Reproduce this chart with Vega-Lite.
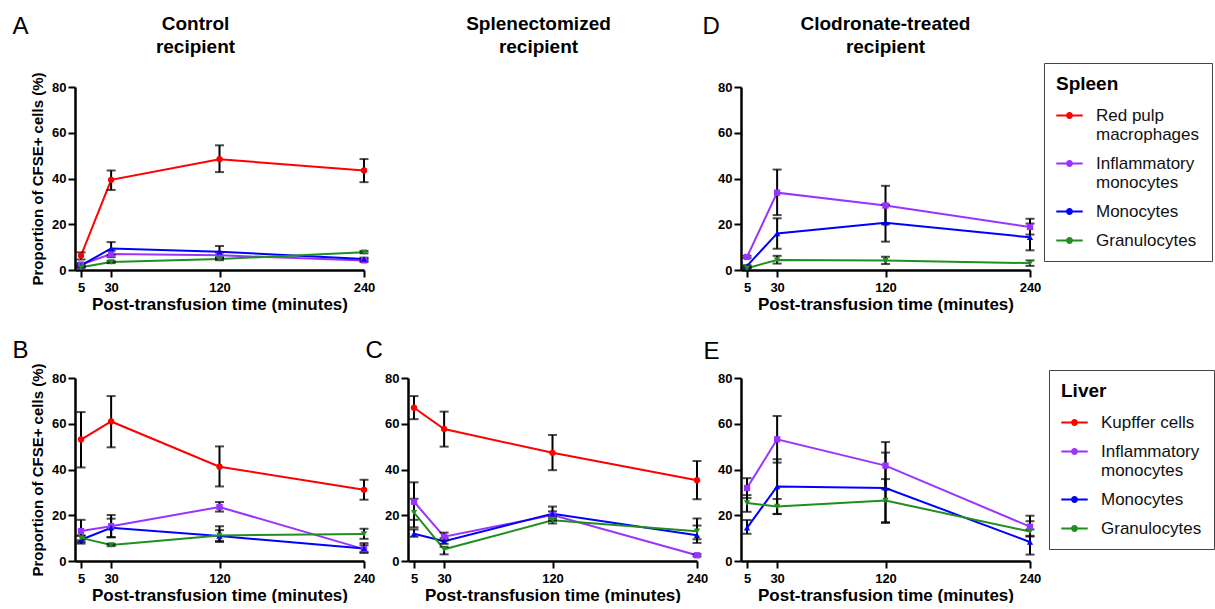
{
  "$schema": "https://vega.github.io/schema/vega-lite/v6.json",
  "padding": {"left": 12, "top": 14, "right": 0, "bottom": 0},
  "background": "white",
  "config": {
    "font": "Liberation Sans",
    "view": {"stroke": null},
    "axis": {"domainColor": "#000", "domainWidth": 2.5, "tickColor": "#000", "tickWidth": 2, "tickSize": 7, "labelFont": "Liberation Sans", "labelFontWeight": "bold", "labelFontSize": 13, "labelColor": "#000", "titleFont": "Liberation Sans", "titleFontWeight": "bold", "titleColor": "#000", "grid": false, "labelFlush": false, "labelOverlap": false},
    "axisX": {"titleFontSize": 17, "labelPadding": 4, "titlePadding": 2},
    "axisY": {"titleFontSize": 15, "labelPadding": 2, "titlePadding": 6}
  },
  "datasets": {
    "d": [
      {"p": "A", "c": "Red pulp macrophages", "t": 5, "m": 6.3, "lo": 4.6, "hi": 7.7},
      {"p": "A", "c": "Red pulp macrophages", "t": 30, "m": 39.4, "lo": 35.0, "hi": 43.5},
      {"p": "A", "c": "Red pulp macrophages", "t": 120, "m": 48.4, "lo": 42.8, "hi": 54.5},
      {"p": "A", "c": "Red pulp macrophages", "t": 240, "m": 43.5, "lo": 38.4, "hi": 48.5},
      {"p": "A", "c": "Inflammatory monocytes", "t": 5, "m": 2.4, "lo": 1.8, "hi": 3.0},
      {"p": "A", "c": "Inflammatory monocytes", "t": 30, "m": 7.0, "lo": 5.6, "hi": 8.4},
      {"p": "A", "c": "Inflammatory monocytes", "t": 120, "m": 6.4, "lo": 5.2, "hi": 7.6},
      {"p": "A", "c": "Inflammatory monocytes", "t": 240, "m": 4.2, "lo": 3.5, "hi": 4.9},
      {"p": "A", "c": "Monocytes", "t": 5, "m": 2.0, "lo": 1.5, "hi": 2.5},
      {"p": "A", "c": "Monocytes", "t": 30, "m": 9.4, "lo": 6.6, "hi": 12.2},
      {"p": "A", "c": "Monocytes", "t": 120, "m": 8.0, "lo": 5.5, "hi": 10.5},
      {"p": "A", "c": "Monocytes", "t": 240, "m": 4.8, "lo": 4.2, "hi": 5.4},
      {"p": "A", "c": "Granulocytes", "t": 5, "m": 1.2, "lo": 0.9, "hi": 1.5},
      {"p": "A", "c": "Granulocytes", "t": 30, "m": 3.5, "lo": 3.0, "hi": 4.0},
      {"p": "A", "c": "Granulocytes", "t": 120, "m": 4.8, "lo": 4.3, "hi": 5.3},
      {"p": "A", "c": "Granulocytes", "t": 240, "m": 7.8, "lo": 7.3, "hi": 8.3},

      {"p": "D", "c": "Inflammatory monocytes", "t": 5, "m": 5.7, "lo": 5.2, "hi": 6.2},
      {"p": "D", "c": "Inflammatory monocytes", "t": 30, "m": 33.8, "lo": 24.0, "hi": 43.9},
      {"p": "D", "c": "Inflammatory monocytes", "t": 120, "m": 28.2, "lo": 20.0, "hi": 36.8},
      {"p": "D", "c": "Inflammatory monocytes", "t": 240, "m": 18.8, "lo": 15.5, "hi": 22.4},
      {"p": "D", "c": "Monocytes", "t": 5, "m": 1.8, "lo": 1.5, "hi": 2.1},
      {"p": "D", "c": "Monocytes", "t": 30, "m": 16.0, "lo": 9.3, "hi": 22.6},
      {"p": "D", "c": "Monocytes", "t": 120, "m": 20.6, "lo": 12.4, "hi": 28.6},
      {"p": "D", "c": "Monocytes", "t": 240, "m": 14.3, "lo": 8.6, "hi": 20.3},
      {"p": "D", "c": "Granulocytes", "t": 5, "m": 0.8, "lo": 0.6, "hi": 1.0},
      {"p": "D", "c": "Granulocytes", "t": 30, "m": 4.4, "lo": 2.8, "hi": 6.2},
      {"p": "D", "c": "Granulocytes", "t": 120, "m": 4.2, "lo": 2.6, "hi": 5.8},
      {"p": "D", "c": "Granulocytes", "t": 240, "m": 3.0, "lo": 1.8, "hi": 4.2},

      {"p": "B", "c": "Kupffer cells", "t": 5, "m": 53.1, "lo": 40.9, "hi": 65.1},
      {"p": "B", "c": "Kupffer cells", "t": 30, "m": 61.0, "lo": 49.7, "hi": 72.1},
      {"p": "B", "c": "Kupffer cells", "t": 120, "m": 41.2, "lo": 32.6, "hi": 50.1},
      {"p": "B", "c": "Kupffer cells", "t": 240, "m": 31.1, "lo": 26.8, "hi": 35.5},
      {"p": "B", "c": "Inflammatory monocytes", "t": 5, "m": 13.1, "lo": 8.2, "hi": 18.0},
      {"p": "B", "c": "Inflammatory monocytes", "t": 30, "m": 15.2, "lo": 10.3, "hi": 20.1},
      {"p": "B", "c": "Inflammatory monocytes", "t": 120, "m": 23.6, "lo": 21.6, "hi": 25.8},
      {"p": "B", "c": "Inflammatory monocytes", "t": 240, "m": 5.2, "lo": 3.5, "hi": 6.9},
      {"p": "B", "c": "Monocytes", "t": 5, "m": 9.3, "lo": 7.6, "hi": 11.0},
      {"p": "B", "c": "Monocytes", "t": 30, "m": 14.5, "lo": 10.5, "hi": 18.5},
      {"p": "B", "c": "Monocytes", "t": 120, "m": 10.9, "lo": 8.3, "hi": 13.5},
      {"p": "B", "c": "Monocytes", "t": 240, "m": 5.5, "lo": 4.0, "hi": 7.8},
      {"p": "B", "c": "Granulocytes", "t": 5, "m": 10.1, "lo": 9.0, "hi": 11.2},
      {"p": "B", "c": "Granulocytes", "t": 30, "m": 7.0, "lo": 6.5, "hi": 7.5},
      {"p": "B", "c": "Granulocytes", "t": 120, "m": 11.2, "lo": 8.8, "hi": 15.2},
      {"p": "B", "c": "Granulocytes", "t": 240, "m": 11.8, "lo": 9.7, "hi": 14.1},

      {"p": "C", "c": "Kupffer cells", "t": 5, "m": 67.0, "lo": 62.0, "hi": 72.1},
      {"p": "C", "c": "Kupffer cells", "t": 30, "m": 57.7, "lo": 50.0, "hi": 65.3},
      {"p": "C", "c": "Kupffer cells", "t": 120, "m": 47.3, "lo": 39.7, "hi": 55.1},
      {"p": "C", "c": "Kupffer cells", "t": 240, "m": 35.3, "lo": 27.0, "hi": 43.7},
      {"p": "C", "c": "Inflammatory monocytes", "t": 5, "m": 25.9, "lo": 18.0, "hi": 34.4},
      {"p": "C", "c": "Inflammatory monocytes", "t": 30, "m": 10.6, "lo": 9.0, "hi": 12.4},
      {"p": "C", "c": "Inflammatory monocytes", "t": 120, "m": 20.1, "lo": 18.5, "hi": 21.7},
      {"p": "C", "c": "Inflammatory monocytes", "t": 240, "m": 2.5, "lo": 2.0, "hi": 3.0},
      {"p": "C", "c": "Monocytes", "t": 5, "m": 11.9, "lo": 10.6, "hi": 13.8},
      {"p": "C", "c": "Monocytes", "t": 30, "m": 8.7, "lo": 7.5, "hi": 10.0},
      {"p": "C", "c": "Monocytes", "t": 120, "m": 20.7, "lo": 17.6, "hi": 23.8},
      {"p": "C", "c": "Monocytes", "t": 240, "m": 11.3, "lo": 7.9, "hi": 15.5},
      {"p": "C", "c": "Granulocytes", "t": 5, "m": 21.1, "lo": 14.7, "hi": 27.2},
      {"p": "C", "c": "Granulocytes", "t": 30, "m": 5.1, "lo": 2.9, "hi": 6.2},
      {"p": "C", "c": "Granulocytes", "t": 120, "m": 17.8, "lo": 16.4, "hi": 19.4},
      {"p": "C", "c": "Granulocytes", "t": 240, "m": 13.0, "lo": 9.5, "hi": 18.6},

      {"p": "E", "c": "Inflammatory monocytes", "t": 5, "m": 31.9, "lo": 27.5, "hi": 36.2},
      {"p": "E", "c": "Inflammatory monocytes", "t": 30, "m": 53.2, "lo": 43.0, "hi": 63.4},
      {"p": "E", "c": "Inflammatory monocytes", "t": 120, "m": 41.7, "lo": 31.5, "hi": 52.0},
      {"p": "E", "c": "Inflammatory monocytes", "t": 240, "m": 15.0, "lo": 11.0, "hi": 19.8},
      {"p": "E", "c": "Monocytes", "t": 5, "m": 14.5, "lo": 11.9, "hi": 17.9},
      {"p": "E", "c": "Monocytes", "t": 30, "m": 32.6, "lo": 20.6, "hi": 44.5},
      {"p": "E", "c": "Monocytes", "t": 120, "m": 31.9, "lo": 16.6, "hi": 47.4},
      {"p": "E", "c": "Monocytes", "t": 240, "m": 8.3, "lo": 2.8, "hi": 13.8},
      {"p": "E", "c": "Granulocytes", "t": 5, "m": 25.4, "lo": 21.5, "hi": 28.8},
      {"p": "E", "c": "Granulocytes", "t": 30, "m": 23.8, "lo": 20.5, "hi": 27.1},
      {"p": "E", "c": "Granulocytes", "t": 120, "m": 26.4, "lo": 17.0, "hi": 35.8},
      {"p": "E", "c": "Granulocytes", "t": 240, "m": 12.9, "lo": 10.7, "hi": 17.4}
    ]
  },
  "data": {"name": "d"},
  "columns": 3,
  "spacing": {"row": 108, "column": 44},
  "bounds": "flush",
  "resolve": {"scale": {"color": "independent", "shape": "independent"}},
  "concat": [
    {
      "width": 289, "height": 183,
      "transform": [{"filter": "datum.p == 'A'"}],
      "layer": [
        {
          "encoding": {
            "x": {"field": "t", "type": "quantitative", "scale": {"domain": [0, 240], "nice": false}, "axis": {"orient": "bottom", "values": [5, 30, 120, 240]}, "title": "Post-transfusion time (minutes)"},
            "y": {"field": "m", "type": "quantitative", "scale": {"domain": [0, 80], "nice": false}, "axis": {"orient": "left", "values": [0, 20, 40, 60, 80]}, "title": "Proportion of CFSE+ cells (%)"}
          },
          "layer": [
            {"mark": {"type": "line", "strokeWidth": 2}, "encoding": {"color": {"field": "c", "type": "nominal", "scale": {"domain": ["Red pulp macrophages", "Inflammatory monocytes", "Monocytes", "Granulocytes"], "range": ["#ff0000", "#9933ff", "#0000ff", "#1f8f1f"]}, "legend": null}}},
            {"mark": {"type": "errorbar", "ticks": true, "color": "black", "thickness": 2, "size": 9}, "encoding": {"y": {"field": "lo", "type": "quantitative", "title": "Proportion of CFSE+ cells (%)"}, "y2": {"field": "hi"}}},
            {"mark": {"type": "point", "filled": true, "opacity": 1, "size": 40}, "encoding": {
              "color": {"field": "c", "type": "nominal", "scale": {"domain": ["Red pulp macrophages", "Inflammatory monocytes", "Monocytes", "Granulocytes"], "range": ["#ff0000", "#9933ff", "#0000ff", "#1f8f1f"]}, "legend": null},
              "shape": {"field": "c", "type": "nominal", "scale": {"domain": ["Granulocytes", "Monocytes", "Inflammatory monocytes", "Red pulp macrophages"], "range": ["triangle-down", "triangle-up", "square", "circle"]}, "legend": null}}}
          ]
        },
        {
          "mark": {"type": "point", "opacity": 0},
          "encoding": {
            "x": {"field": "t", "type": "quantitative", "axis": {"orient": "top", "domain": false, "ticks": false, "labels": false, "title": ["Control", "recipient"], "titleX": 120, "titleY": -58, "titleAlign": "center", "titleBaseline": "alphabetic", "titleAngle": 0, "titleFontSize": 19, "titleLineHeight": 23}},
            "y": {"field": "m", "type": "quantitative", "axis": {"orient": "right", "domain": false, "ticks": false, "labels": false, "title": "A", "titleX": -352, "titleY": -54, "titleAlign": "left", "titleBaseline": "alphabetic", "titleAngle": 0, "titleFontSize": 24, "titleFontWeight": "normal"}}
          }
        }
      ],
      "resolve": {"axis": {"x": "independent", "y": "independent"}}
    },
    {
      "width": 289, "height": 183,
      "transform": [{"filter": "datum.p == 'A'"}],
      "mark": {"type": "point", "opacity": 0},
      "encoding": {
        "x": {"field": "t", "type": "quantitative", "scale": {"domain": [0, 240], "nice": false}, "axis": {"orient": "top", "domain": false, "ticks": false, "labels": false, "title": ["Splenectomized", "recipient"], "titleX": 130, "titleY": -58, "titleAlign": "center", "titleBaseline": "alphabetic", "titleAngle": 0, "titleFontSize": 19, "titleLineHeight": 23}},
        "y": {"field": "m", "type": "quantitative", "scale": {"domain": [0, 80], "nice": false}, "axis": null}
      }
    },
    {
      "width": 289, "height": 183,
      "transform": [{"filter": "datum.p == 'D'"}],
      "layer": [
        {
          "encoding": {
            "x": {"field": "t", "type": "quantitative", "scale": {"domain": [0, 240], "nice": false}, "axis": {"orient": "bottom", "values": [5, 30, 120, 240]}, "title": "Post-transfusion time (minutes)"},
            "y": {"field": "m", "type": "quantitative", "scale": {"domain": [0, 80], "nice": false}, "axis": {"orient": "left", "values": [0, 20, 40, 60, 80]}, "title": null}
          },
          "layer": [
            {"mark": {"type": "line", "strokeWidth": 2}, "encoding": {"color": {"field": "c", "type": "nominal", "scale": {"domain": ["Red pulp macrophages", "Inflammatory monocytes", "Monocytes", "Granulocytes"], "range": ["#ff0000", "#9933ff", "#0000ff", "#1f8f1f"]}}}},
            {"mark": {"type": "errorbar", "ticks": true, "color": "black", "thickness": 2, "size": 9}, "encoding": {"y": {"field": "lo", "type": "quantitative", "title": null}, "y2": {"field": "hi"}}},
            {"mark": {"type": "point", "filled": true, "opacity": 1, "size": 40}, "encoding": {
              "color": {"field": "c", "type": "nominal", "scale": {"domain": ["Red pulp macrophages", "Inflammatory monocytes", "Monocytes", "Granulocytes"], "range": ["#ff0000", "#9933ff", "#0000ff", "#1f8f1f"]},
                "legend": {"orient": "none", "legendX": 303, "legendY": -24, "direction": "vertical", "title": "Spleen", "titleFontSize": 19, "titleFontWeight": "bold", "titleColor": "#000", "titlePadding": 8, "labelFontSize": 17, "labelColor": "#111", "labelLimit": 400, "labelOffset": 13, "symbolSize": 700, "symbolStrokeWidth": 0, "symbolType": "M-1,-0.08L1,-0.08L1,0.08L-1,0.08Z M-0.26,0A0.26,0.26,0,1,1,0.26,0A0.26,0.26,0,1,1,-0.26,0Z", "padding": 12, "rowPadding": 7, "strokeColor": "#444",
                  "labelExpr": "datum.label == 'Red pulp macrophages' ? ['Red pulp', 'macrophages'] : datum.label == 'Inflammatory monocytes' ? ['Inflammatory', 'monocytes'] : datum.label"}},
              "shape": {"field": "c", "type": "nominal", "scale": {"domain": ["Granulocytes", "Monocytes", "Inflammatory monocytes", "Red pulp macrophages"], "range": ["triangle-down", "triangle-up", "square", "circle"]}, "legend": null}}}
          ]
        },
        {
          "mark": {"type": "point", "opacity": 0},
          "encoding": {
            "x": {"field": "t", "type": "quantitative", "axis": {"orient": "top", "domain": false, "ticks": false, "labels": false, "title": ["Clodronate-treated", "recipient"], "titleX": 144, "titleY": -58, "titleAlign": "center", "titleBaseline": "alphabetic", "titleAngle": 0, "titleFontSize": 19, "titleLineHeight": 23}},
            "y": {"field": "m", "type": "quantitative", "axis": {"orient": "right", "domain": false, "ticks": false, "labels": false, "title": "D", "titleX": -328, "titleY": -54, "titleAlign": "left", "titleBaseline": "alphabetic", "titleAngle": 0, "titleFontSize": 24, "titleFontWeight": "normal"}}
          }
        }
      ],
      "resolve": {"axis": {"x": "independent", "y": "independent"}}
    },
    {
      "width": 289, "height": 183,
      "transform": [{"filter": "datum.p == 'B'"}],
      "layer": [
        {
          "encoding": {
            "x": {"field": "t", "type": "quantitative", "scale": {"domain": [0, 240], "nice": false}, "axis": {"orient": "bottom", "values": [5, 30, 120, 240]}, "title": "Post-transfusion time (minutes)"},
            "y": {"field": "m", "type": "quantitative", "scale": {"domain": [0, 80], "nice": false}, "axis": {"orient": "left", "values": [0, 20, 40, 60, 80]}, "title": "Proportion of CFSE+ cells (%)"}
          },
          "layer": [
            {"mark": {"type": "line", "strokeWidth": 2}, "encoding": {"color": {"field": "c", "type": "nominal", "scale": {"domain": ["Kupffer cells", "Inflammatory monocytes", "Monocytes", "Granulocytes"], "range": ["#ff0000", "#9933ff", "#0000ff", "#1f8f1f"]}, "legend": null}}},
            {"mark": {"type": "errorbar", "ticks": true, "color": "black", "thickness": 2, "size": 9}, "encoding": {"y": {"field": "lo", "type": "quantitative", "title": "Proportion of CFSE+ cells (%)"}, "y2": {"field": "hi"}}},
            {"mark": {"type": "point", "filled": true, "opacity": 1, "size": 40}, "encoding": {
              "color": {"field": "c", "type": "nominal", "scale": {"domain": ["Kupffer cells", "Inflammatory monocytes", "Monocytes", "Granulocytes"], "range": ["#ff0000", "#9933ff", "#0000ff", "#1f8f1f"]}, "legend": null},
              "shape": {"field": "c", "type": "nominal", "scale": {"domain": ["Granulocytes", "Monocytes", "Inflammatory monocytes", "Kupffer cells"], "range": ["triangle-down", "triangle-up", "square", "circle"]}, "legend": null}}}
          ]
        },
        {
          "mark": {"type": "point", "opacity": 0},
          "encoding": {
            "y": {"field": "m", "type": "quantitative", "axis": {"orient": "right", "domain": false, "ticks": false, "labels": false, "title": "B", "titleX": -352, "titleY": -21, "titleAlign": "left", "titleBaseline": "alphabetic", "titleAngle": 0, "titleFontSize": 24, "titleFontWeight": "normal"}}
          }
        }
      ],
      "resolve": {"axis": {"x": "independent", "y": "independent"}}
    },
    {
      "width": 289, "height": 183,
      "transform": [{"filter": "datum.p == 'C'"}],
      "layer": [
        {
          "encoding": {
            "x": {"field": "t", "type": "quantitative", "scale": {"domain": [0, 240], "nice": false}, "axis": {"orient": "bottom", "values": [5, 30, 120, 240]}, "title": "Post-transfusion time (minutes)"},
            "y": {"field": "m", "type": "quantitative", "scale": {"domain": [0, 80], "nice": false}, "axis": {"orient": "left", "values": [0, 20, 40, 60, 80]}, "title": null}
          },
          "layer": [
            {"mark": {"type": "line", "strokeWidth": 2}, "encoding": {"color": {"field": "c", "type": "nominal", "scale": {"domain": ["Kupffer cells", "Inflammatory monocytes", "Monocytes", "Granulocytes"], "range": ["#ff0000", "#9933ff", "#0000ff", "#1f8f1f"]}, "legend": null}}},
            {"mark": {"type": "errorbar", "ticks": true, "color": "black", "thickness": 2, "size": 9}, "encoding": {"y": {"field": "lo", "type": "quantitative", "title": null}, "y2": {"field": "hi"}}},
            {"mark": {"type": "point", "filled": true, "opacity": 1, "size": 40}, "encoding": {
              "color": {"field": "c", "type": "nominal", "scale": {"domain": ["Kupffer cells", "Inflammatory monocytes", "Monocytes", "Granulocytes"], "range": ["#ff0000", "#9933ff", "#0000ff", "#1f8f1f"]}, "legend": null},
              "shape": {"field": "c", "type": "nominal", "scale": {"domain": ["Granulocytes", "Monocytes", "Inflammatory monocytes", "Kupffer cells"], "range": ["triangle-down", "triangle-up", "square", "circle"]}, "legend": null}}}
          ]
        },
        {
          "mark": {"type": "point", "opacity": 0},
          "encoding": {
            "y": {"field": "m", "type": "quantitative", "axis": {"orient": "right", "domain": false, "ticks": false, "labels": false, "title": "C", "titleX": -332, "titleY": -21, "titleAlign": "left", "titleBaseline": "alphabetic", "titleAngle": 0, "titleFontSize": 24, "titleFontWeight": "normal"}}
          }
        }
      ],
      "resolve": {"axis": {"x": "independent", "y": "independent"}}
    },
    {
      "width": 289, "height": 183,
      "transform": [{"filter": "datum.p == 'E'"}],
      "layer": [
        {
          "encoding": {
            "x": {"field": "t", "type": "quantitative", "scale": {"domain": [0, 240], "nice": false}, "axis": {"orient": "bottom", "values": [5, 30, 120, 240]}, "title": "Post-transfusion time (minutes)"},
            "y": {"field": "m", "type": "quantitative", "scale": {"domain": [0, 80], "nice": false}, "axis": {"orient": "left", "values": [0, 20, 40, 60, 80]}, "title": null}
          },
          "layer": [
            {"mark": {"type": "line", "strokeWidth": 2}, "encoding": {"color": {"field": "c", "type": "nominal", "scale": {"domain": ["Kupffer cells", "Inflammatory monocytes", "Monocytes", "Granulocytes"], "range": ["#ff0000", "#9933ff", "#0000ff", "#1f8f1f"]}}}},
            {"mark": {"type": "errorbar", "ticks": true, "color": "black", "thickness": 2, "size": 9}, "encoding": {"y": {"field": "lo", "type": "quantitative", "title": null}, "y2": {"field": "hi"}}},
            {"mark": {"type": "point", "filled": true, "opacity": 1, "size": 40}, "encoding": {
              "color": {"field": "c", "type": "nominal", "scale": {"domain": ["Kupffer cells", "Inflammatory monocytes", "Monocytes", "Granulocytes"], "range": ["#ff0000", "#9933ff", "#0000ff", "#1f8f1f"]},
                "legend": {"orient": "none", "legendX": 308, "legendY": -8, "direction": "vertical", "title": "Liver", "titleFontSize": 19, "titleFontWeight": "bold", "titleColor": "#000", "titlePadding": 8, "labelFontSize": 17, "labelColor": "#111", "labelLimit": 400, "labelOffset": 13, "symbolSize": 700, "symbolStrokeWidth": 0, "symbolType": "M-1,-0.08L1,-0.08L1,0.08L-1,0.08Z M-0.26,0A0.26,0.26,0,1,1,0.26,0A0.26,0.26,0,1,1,-0.26,0Z", "padding": 12, "rowPadding": 7, "strokeColor": "#444",
                  "labelExpr": "datum.label == 'Red pulp macrophages' ? ['Red pulp', 'macrophages'] : datum.label == 'Inflammatory monocytes' ? ['Inflammatory', 'monocytes'] : datum.label"}},
              "shape": {"field": "c", "type": "nominal", "scale": {"domain": ["Granulocytes", "Monocytes", "Inflammatory monocytes", "Kupffer cells"], "range": ["triangle-down", "triangle-up", "square", "circle"]}, "legend": null}}}
          ]
        },
        {
          "mark": {"type": "point", "opacity": 0},
          "encoding": {
            "y": {"field": "m", "type": "quantitative", "axis": {"orient": "right", "domain": false, "ticks": false, "labels": false, "title": "E", "titleX": -327, "titleY": -20, "titleAlign": "left", "titleBaseline": "alphabetic", "titleAngle": 0, "titleFontSize": 24, "titleFontWeight": "normal"}}
          }
        }
      ],
      "resolve": {"axis": {"x": "independent", "y": "independent"}}
    }
  ]
}
